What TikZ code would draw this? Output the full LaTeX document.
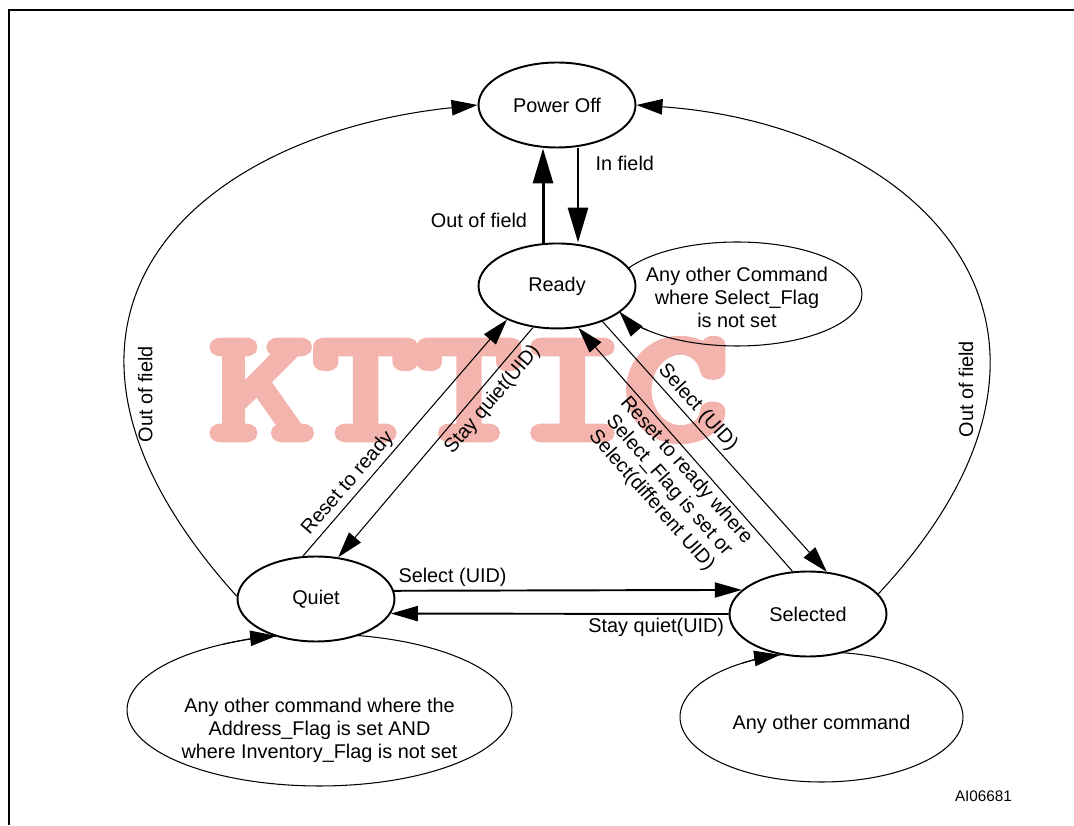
\documentclass[tikz,border=0pt]{standalone}
\usepackage{fontspec}
\setmainfont{Liberation Sans}
\newfontfamily\stampfont{lmmono10-regular.otf}[FakeBold=6]
\usepackage{xcolor}
\definecolor{stampPink}{RGB}{244,180,174}
\usepackage{tikz}
\usetikzlibrary{
    shapes.geometric,
    arrows.meta,
    positioning,
    calc
}
\newcommand{\statefont}{\fontsize{11.3}{13.1}\selectfont}
\tikzset{
    % Base style for all state ellipses
    state base/.style={
        font=\statefont,
        align=center,
        inner sep=0pt,
        ellipse,
        draw=black,
    },
    % Main states - thick ellipse, white inside
    state/.style={
        state base,
        line width=1.1pt,
        fill=white,
        minimum width=3.14cm,
        minimum height=1.7cm,
    },
    % Self loops - thin ellipse
    loopbox/.style={
        state base,
        line width=0.6pt,
    },
    % Thin connector
    arrow/.style={
        -{Triangle[length=0.52cm, width=0.31cm]},
        line width=0.6pt,
    },
    % Heavier connectors
    arrow mid/.style={
        -{Triangle[length=0.54cm, width=0.3cm]},
        line width=1.1pt,
    },
    arrow thick/.style={
        -{Triangle[length=0.7cm, width=0.4cm]},
        line width=1.7pt,
    },
    % Connector labels
    edge label/.style={
        font=\statefont,
        inner sep=2pt,
        align=center,
    },
    % Stamp behind the figure
    watermark/.style={
        font=\stampfont\fontsize{89}{89}\selectfont,
        text=stampPink,
        xscale=1.26,
        inner sep=0pt,
    },
}

\begin{document}
\begin{tikzpicture}[x=0.02cm, y=0.02cm, node distance=3.62cm, font=\statefont]
    \useasboundingbox (0,0) rectangle (1074,825);
    \node (stamp) [watermark] at (469,435) {KTTIC};
    \draw[line width=1.1pt] (1074,815) -- (9,815) -- (9,0);

    % self loops first, the states cover their inner part
    \node (readyloop) [loopbox, minimum width=5cm, minimum height=2.08cm,
        label={[edge label, yshift=-0.06cm]center:Any other Command\\where Select\_Flag\\is not set}] at (737,531) {};
    \node (quietloop) [loopbox, minimum width=7.7cm, minimum height=3.04cm,
        label={[edge label, yshift=-0.4cm]center:Any other command where the\\Address\_Flag is set AND\\where Inventory\_Flag is not set}] at (319.5,115) {};
    \node (selectedloop) [loopbox, minimum width=5.66cm, minimum height=2.6cm,
        label={[edge label, yshift=-0.14cm]center:Any other command}] at (821.5,108) {};

    \node (poweroff) [state] at (557,720) {Power Off};
    \node (ready) [state, below of=poweroff] {Ready};
    \node (quiet) [state] at (316,226) {Quiet};
    \node (selected) [state] at (808,211) {Selected};

    \draw[arrow] ($(readyloop.center)+(224:125 and 52)$) arc[start angle=224, end angle=200, x radius=125, y radius=52];
    \draw[arrow] ($(quietloop.center)+(120:192.5 and 76)$) arc[start angle=120, end angle=103, x radius=192.5, y radius=76];
    \draw[arrow] ($(selectedloop.center)+(124:141.5 and 65)$) arc[start angle=124, end angle=107, x radius=141.5, y radius=65];

    \draw[arrow thick] ([xshift=-0.28cm]ready.north) -- ([xshift=-0.28cm]poweroff.south)
        node[edge label, pos=0.24, left=0.22cm] {Out of field};
    \draw[arrow thick] ([xshift=0.42cm]poweroff.south) -- ([xshift=0.42cm]ready.north)
        node[edge label, pos=0.16, right=0.25cm] {In field};

    \draw[arrow mid] (quiet.6) -- (selected.160)
        node[edge label, pos=0, anchor=south west] {Select (UID)};
    \draw[arrow mid] (selected.180) -- (quiet.-11)
        node[edge label, pos=0, anchor=north east] {Stay quiet(UID)};

    \draw[arrow] (quiet.107) -- (ready.214)
        node[edge label, pos=0.27, sloped, above] {Reset to ready};
    \draw[arrow] (ready.240) -- (quiet.62)
        node[edge label, pos=0.27, sloped, below, inner sep=3.5pt] {Stay quiet(UID)};
    \draw[arrow] (ready.-38) -- (selected.66)
        node[edge label, pos=0.38, sloped, above] {Select (UID)};
    \draw[arrow] (selected.110) -- (ready.-63)
        node[edge label, pos=0.45, sloped, below] {Reset to ready where\\Select\_Flag is set or\\Select(different UID)};

    \draw[arrow] (quiet.178) .. controls +(132:370) and +(186:290) .. (poweroff.180)
        node[edge label, pos=0.27, rotate=90, anchor=north, inner sep=6pt] {Out of field};
    \draw[arrow] (selected.16) .. controls +(47:360) and +(-4:290) .. (poweroff.0)
        node[edge label, pos=0.28, rotate=90, anchor=south, inner sep=8pt] {Out of field};

    \node (docid) [font=\fontsize{8.7}{10}\selectfont] at (983.5,29) {AI06681};
\end{tikzpicture}
\end{document}
